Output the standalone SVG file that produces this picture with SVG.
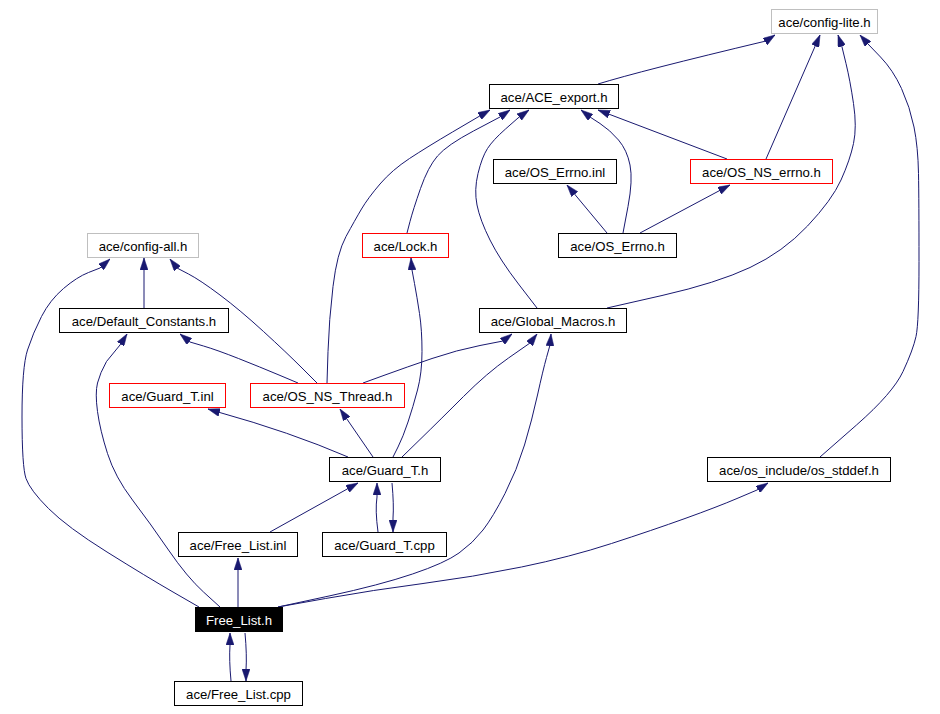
<svg xmlns="http://www.w3.org/2000/svg" width="940" height="714" viewBox="0 0 940 714">
<style>
.n rect{fill:#fff;stroke:#000;stroke-width:1}
.n.g rect{stroke:#bfbfbf}
.n.r rect{stroke:#ff0000}
.n.cur rect{fill:#000;stroke:#000}
.n text{font-family:"Liberation Sans",Arial,Helvetica,sans-serif;font-size:13.2px;text-anchor:middle;fill:#000}
.n.cur text{fill:#fff}
#edges path{fill:none;stroke:#191970;stroke-width:1;marker-end:url(#ah)}
</style>
<defs>
<marker id="ah" markerUnits="userSpaceOnUse" markerWidth="12" markerHeight="8" refX="12" refY="4" orient="auto" viewBox="0 0 12 8"><path d="M0,0L12,4L0,8z" fill="#191970" stroke="#191970" stroke-width="0.5"/></marker>
</defs>
<rect width="940" height="714" fill="#fff"/>
<g id="edges">
<path d="M598,84 Q640,71 766,41 L775,35"/>
<path d="M766,159 L820,35"/>
<path d="M607,308 L662,295.5 Q717,283 750,267.5 Q783,252 807.5,226 Q832,200 841,180 Q850,160 853.5,143.5 Q857,127 853.5,103.5 Q850,80 846,63.5 L842,47 L838,35"/>
<path d="M820,457 L856.5,425 Q893,393 903,371.5 Q913,350 916,336.5 Q919,323 919,261.5 Q919,200 918.5,173.5 Q918,147 914,127 Q910,107 901.5,88.5 Q893,70 880.5,57 L868,44 L860,35"/>
<path d="M727,159 L598,110"/>
<path d="M623,233 L628,206.5 Q633,180 630,165 Q627,150 618.5,140 Q610,130 600,123.5 L590,117 L581,110"/>
<path d="M607,233 L567,185"/>
<path d="M640,233 L730,185"/>
<path d="M537,308 L518.5,284 Q500,260 490,240 Q480,220 477,205 Q474,190 478,173.5 Q482,157 487.5,148.5 Q493,140 505.5,129 L518,118 L529,110"/>
<path d="M407,233 L410,221.5 Q413,210 420.5,188.5 Q428,167 437.5,156 Q447,145 473.5,131 L500,117 L510,110"/>
<path d="M327,383 L328,351.5 Q329,320 333,286.5 Q337,253 346,236.5 Q355,220 361.5,209 Q368,198 380,184 Q392,170 409.5,158.5 Q427,147 452.5,132 L478,117 L490,110"/>
<path d="M317,383 L302,368 Q287,353 263.5,331.5 Q240,310 220,295 Q200,280 188.5,274 L177,268 L170,259"/>
<path d="M298,383 L279,375 Q260,367 238.5,358.5 Q217,350 203.5,346 L190,342 L180,334"/>
<path d="M363,383 L385,375 Q407,367 432,358.5 Q457,350 480,345.5 L503,341 L512,334"/>
<path d="M144,308 L144,258"/>
<path d="M348,457 Q290,432 218,412 L208,409"/>
<path d="M373,457 L340,409"/>
<path d="M393,457 L398,447 Q403,437 408,422 Q413,407 417.5,390 Q422,373 422,351.5 Q422,330 419.5,313.5 Q417,297 414.5,283.5 L412,270 L411,258"/>
<path d="M402,457 L421,438.5 Q440,420 463.5,396.5 Q487,373 508.5,358 L530,343 L537,334"/>
<path d="M378,532 Q375,510 377,497 L377,483"/>
<path d="M392,483 Q394,505 393,518 L393,532"/>
<path d="M270,532 L358,483"/>
<path d="M238,607 L238,558"/>
<path d="M199,607 L173,592 Q147,577 107,552 Q67,527 48.5,508.5 Q30,490 26,478.5 Q22,467 22,417 Q22,367 27.5,350 Q33,333 41.5,316.5 Q50,300 63.5,288.5 Q77,277 88.5,272.5 L100,268 L110,259"/>
<path d="M220,607 L203.5,592 Q187,577 168.5,550 Q150,523 132.5,500 Q115,477 107.5,453.5 Q100,430 97.5,411.5 Q95,393 97.5,383 Q100,373 106.5,361.5 L120,345 L127,334"/>
<path d="M278,607 L329,596 Q380,585 412.5,574 Q445,563 459,553 Q473,543 483,530 Q493,517 505,493.5 Q517,470 524.5,445 Q532,420 537.5,395 Q543,370 546.5,357.5 L550,345 L551,334"/>
<path d="M278,607 L325.5,598.5 Q373,590 423,583.5 Q473,577 521.5,567 Q570,557 611.5,543.5 Q653,530 685,518.5 Q717,507 737,498.5 L757,490 L768,483"/>
<path d="M231,681 Q229,660 230,645 L230,633"/>
<path d="M245,633 Q247,655 246,670 L246,681"/>
</g>
<g id="config-lite" class="n g"><rect x="771.5" y="9.5" width="106" height="24"/><text x="824.5" y="26.5">ace/config-lite.h</text></g>
<g id="ACE_export" class="n"><rect x="489.5" y="84.5" width="129" height="24"/><text x="554" y="101.5">ace/ACE_export.h</text></g>
<g id="OS_Errno_inl" class="n"><rect x="493.5" y="159.5" width="123" height="24"/><text x="555" y="176.5">ace/OS_Errno.inl</text></g>
<g id="OS_NS_errno" class="n r"><rect x="690.5" y="159.5" width="142" height="24"/><text x="761.5" y="176.5">ace/OS_NS_errno.h</text></g>
<g id="config-all" class="n g"><rect x="87.5" y="233.5" width="111" height="24"/><text x="143" y="250.5">ace/config-all.h</text></g>
<g id="Lock" class="n r"><rect x="362.5" y="233.5" width="86" height="24"/><text x="405.5" y="250.5">ace/Lock.h</text></g>
<g id="OS_Errno" class="n"><rect x="558.5" y="233.5" width="118" height="24"/><text x="617.5" y="250.5">ace/OS_Errno.h</text></g>
<g id="Default_Constants" class="n"><rect x="59.5" y="308.5" width="169" height="24"/><text x="144" y="325.5">ace/Default_Constants.h</text></g>
<g id="Global_Macros" class="n"><rect x="479.5" y="308.5" width="147" height="24"/><text x="553" y="325.5">ace/Global_Macros.h</text></g>
<g id="Guard_T_inl" class="n r"><rect x="109.5" y="383.5" width="116" height="24"/><text x="167.5" y="400.5">ace/Guard_T.inl</text></g>
<g id="OS_NS_Thread" class="n r"><rect x="250.5" y="383.5" width="154" height="24"/><text x="327.5" y="400.5">ace/OS_NS_Thread.h</text></g>
<g id="Guard_T" class="n"><rect x="329.5" y="457.5" width="111" height="24"/><text x="385" y="474.5">ace/Guard_T.h</text></g>
<g id="os_stddef" class="n"><rect x="707.5" y="457.5" width="183" height="24"/><text x="799" y="474.5">ace/os_include/os_stddef.h</text></g>
<g id="Free_List_inl" class="n"><rect x="178.5" y="532.5" width="119" height="24"/><text x="238" y="549.5">ace/Free_List.inl</text></g>
<g id="Guard_T_cpp" class="n"><rect x="322.5" y="532.5" width="124" height="24"/><text x="384.5" y="549.5">ace/Guard_T.cpp</text></g>
<g id="Free_List_h" class="n cur"><rect x="195.5" y="607.5" width="87" height="24"/><text x="239" y="624.5">Free_List.h</text></g>
<g id="Free_List_cpp" class="n"><rect x="174.5" y="681.5" width="128" height="24"/><text x="238.5" y="698.5">ace/Free_List.cpp</text></g>
</svg>
